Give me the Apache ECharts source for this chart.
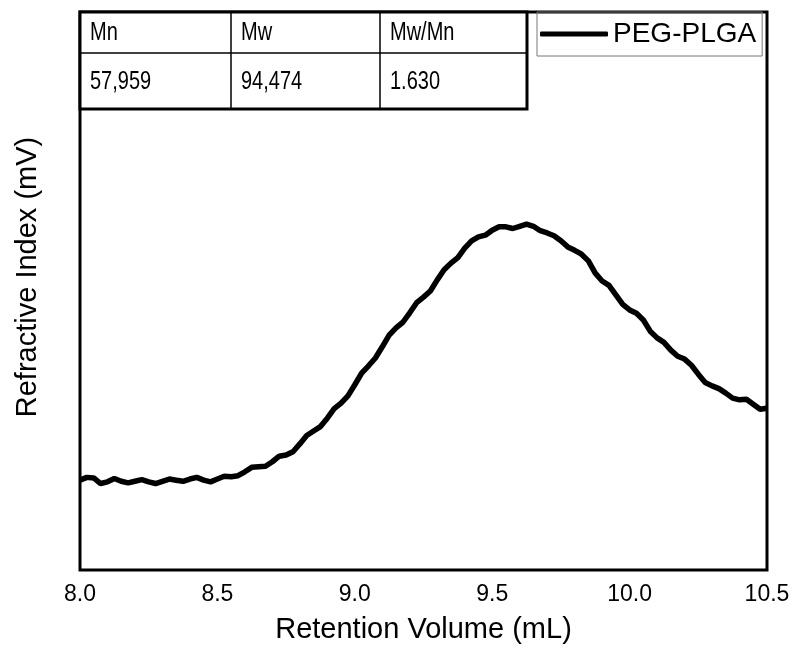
<!DOCTYPE html>
<html>
<head>
<meta charset="utf-8">
<script src="https://cdn.jsdelivr.net/npm/echarts@6/dist/echarts.min.js"></script>
<style>html,body{margin:0;padding:0;background:#fff}#c{width:795px;height:650px}</style>
</head>
<body>
<div id="c"></div>
<script>
var retentionVolume = [8.000,8.025,8.050,8.075,8.100,8.125,8.150,8.175,8.200,8.225,8.250,8.275,8.300,8.325,8.350,8.375,8.400,8.425,8.450,8.475,8.500,8.525,8.550,8.575,8.600,8.625,8.650,8.675,8.700,8.725,8.750,8.775,8.800,8.825,8.850,8.875,8.900,8.925,8.950,8.975,9.000,9.025,9.050,9.075,9.100,9.125,9.150,9.175,9.200,9.225,9.250,9.275,9.300,9.325,9.350,9.375,9.400,9.425,9.450,9.475,9.500,9.525,9.550,9.575,9.600,9.625,9.650,9.675,9.700,9.725,9.750,9.775,9.800,9.825,9.850,9.875,9.900,9.925,9.950,9.975,10.000,10.025,10.050,10.075,10.100,10.125,10.150,10.175,10.200,10.225,10.250,10.275,10.300,10.325,10.350,10.375,10.400,10.425,10.450,10.475,10.500];
var refractiveIndex = [16.1,16.6,16.5,15.5,15.8,16.4,15.9,15.6,15.9,16.2,15.8,15.5,15.9,16.3,16.1,15.9,16.3,16.6,16.1,15.8,16.3,16.8,16.7,16.9,17.6,18.4,18.5,18.6,19.4,20.4,20.6,21.2,22.6,24.1,24.9,25.7,27.2,28.9,29.9,31.2,33.2,35.3,36.6,38.0,40.0,42.1,43.4,44.4,46.1,47.9,48.9,50.0,52.0,53.8,55.0,56.0,57.7,59.0,59.7,60.0,60.9,61.5,61.5,61.2,61.6,62.0,61.6,60.8,60.4,59.9,59.0,57.9,57.3,56.6,55.4,53.2,51.8,51.0,49.3,47.6,46.6,46.0,44.8,42.8,41.6,40.8,39.4,38.3,37.8,36.7,35.1,33.6,33.0,32.5,31.7,30.8,30.5,30.6,29.7,28.8,29.0];
var seriesName = 'PEG-PLGA';
var tableHeaders = ['Mn','Mw','Mw/Mn'];
var tableValues = ['57,959','94,474','1.630'];
var xTicks = [8.0,8.5,9.0,9.5,10.0,10.5];

var chart = echarts.init(document.getElementById('c'), null, {renderer:'canvas'});
var data = retentionVolume.map(function(x,i){return [x, refractiveIndex[i]];});
var FONT = '"Liberation Sans", Arial, sans-serif';

var colX = [80, 231, 380, 527];
var graphics = [];
graphics.push({type:'rect', shape:{x:80,y:12,width:447,height:97}, style:{fill:'#fff', stroke:null}, z:100});
graphics.push({type:'line', shape:{x1:80,y1:53,x2:527,y2:53}, style:{stroke:'#000',lineWidth:1.5}, z:101});
graphics.push({type:'line', shape:{x1:231,y1:12,x2:231,y2:109}, style:{stroke:'#000',lineWidth:1.5}, z:101});
graphics.push({type:'line', shape:{x1:380,y1:12,x2:380,y2:109}, style:{stroke:'#000',lineWidth:1.5}, z:101});
graphics.push({type:'rect', shape:{x:80,y:12,width:447,height:97}, style:{fill:null, stroke:'#000', lineWidth:3}, z:102});
for (var i=0;i<3;i++){
  graphics.push({type:'text', x:colX[i]+10, y:33, scaleY:1.25, style:{text:tableHeaders[i], font:'20px '+FONT, fill:'#000', verticalAlign:'middle'}, z:103});
  graphics.push({type:'text', x:colX[i]+10, y:82, scaleY:1.25, style:{text:tableValues[i], font:'20px '+FONT, fill:'#000', verticalAlign:'middle'}, z:103});
}

chart.setOption({
  animation:false,
  backgroundColor:'#fff',
  grid:{left:80, right:28, top:12, bottom:80, show:true, borderColor:'#000', borderWidth:3, containLabel:false, outerBoundsMode:'none'},
  legend:{
    show:true, left:537, top:12, orient:'horizontal',
    padding:[8,6,8,3], borderColor:'#777', borderWidth:1,
    itemWidth:68, itemHeight:5, itemGap:6,
    textStyle:{fontSize:28, fontFamily:FONT, color:'#000'},
    data:[{name:seriesName, icon:'roundRect', itemStyle:{color:'#000'}}]
  },
  xAxis:{
    type:'value', min:8.0, max:10.5, interval:0.5,
    axisLine:{show:false}, axisTick:{show:false}, splitLine:{show:false},
    axisLabel:{fontSize:23, fontFamily:FONT, color:'#000', margin:13, formatter:function(v){return v.toFixed(1);}},
    name:'Retention Volume (mL)', nameLocation:'middle', nameGap:45,
    nameTextStyle:{fontSize:29, fontFamily:FONT, color:'#000'}
  },
  yAxis:{
    type:'value', min:0, max:100,
    axisLine:{show:false}, axisTick:{show:false}, splitLine:{show:false}, axisLabel:{show:false},
    name:'Refractive Index (mV)', nameLocation:'middle', nameGap:38,
    nameTextStyle:{fontSize:29, fontFamily:FONT, color:'#000', padding:[0,0,0,28]}
  },
  graphic:graphics,
  series:[{
    name:seriesName, type:'line', data:data, showSymbol:false, symbol:'none',
    lineStyle:{color:'#000', width:5.5}, itemStyle:{color:'#000'}, smooth:false
  }]
});
</script>
</body>
</html>
